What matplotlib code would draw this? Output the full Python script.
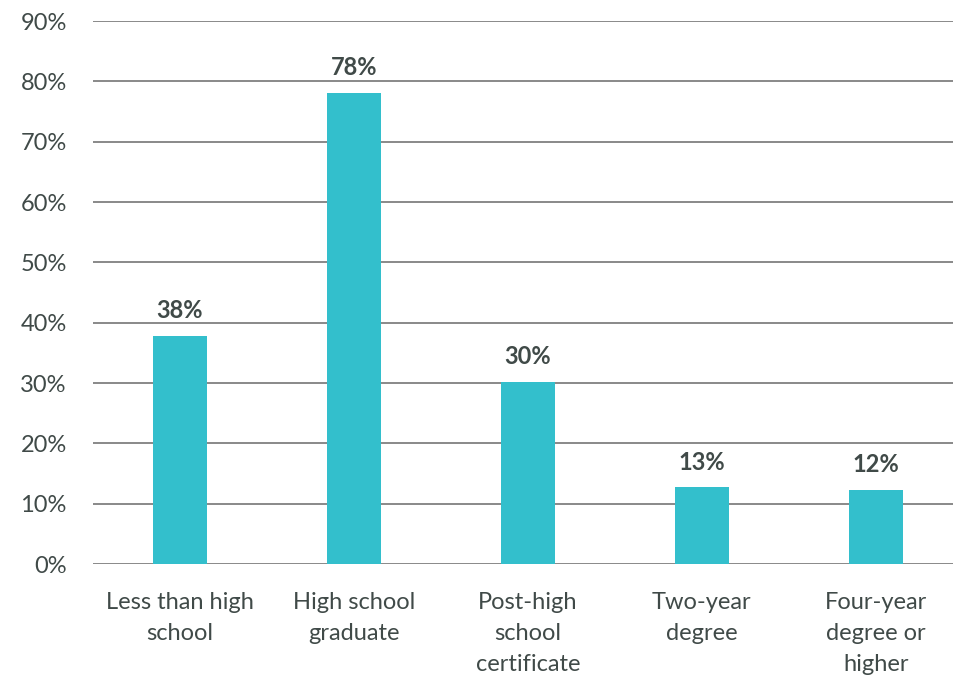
import matplotlib.pyplot as plt
from matplotlib.ticker import PercentFormatter

categories = ["Less than high\nschool", "High school\ngraduate", "Post-high\nschool\ncertificate",
              "Two-year\ndegree", "Four-year\ndegree or\nhigher"]
shares = [37.8, 78.1, 30.2, 12.7, 12.3]
yticks = [0, 10, 20, 30, 40, 50, 60, 70, 80, 90]

bar_color = "#33BFCC"
text_color = "#404A48"
grid_color = "#808080"

plt.rcParams['font.family'] = ['Lato', 'DejaVu Sans']

fig = plt.figure(figsize=(9.54, 6.82), dpi=100)
ax = fig.add_axes([0.0975, 0.173, 0.9025, 0.796])

x = range(len(categories))
ax.bar(x, shares, width=0.31, color=bar_color, zorder=3)

for xi, v in zip(x, shares):
    ax.annotate(f"{round(v)}%", (xi, v), xytext=(0, 10), textcoords="offset points",
                ha="center", va="bottom", fontsize=17, fontweight="bold", color=text_color)

ax.set_ylim(0, 90)
ax.set_xlim(-0.5, 4.45)
ax.set_yticks(yticks)
ax.yaxis.set_major_formatter(PercentFormatter(decimals=0))
ax.set_xticks(list(x))
ax.set_xticklabels(categories, linespacing=1.58)

ax.grid(axis="y", color=grid_color, linewidth=1.3, zorder=0)
for s in ["top", "right", "left", "bottom"]:
    ax.spines[s].set_visible(False)
ax.tick_params(axis="y", length=0, pad=19, labelsize=17, labelcolor=text_color)
ax.tick_params(axis="x", length=0, pad=20, labelsize=17, labelcolor=text_color)

fig.savefig("out.png", dpi=100)
